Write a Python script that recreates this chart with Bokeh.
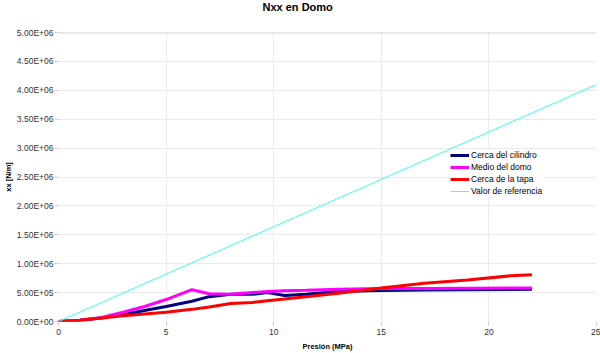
from bokeh.plotting import figure
from bokeh.models import (Legend, LegendItem, FixedTicker, CustomJSTickFormatter,
                          Range1d, Span, Title)
from bokeh.embed import file_html
from bokeh.resources import INLINE

# ---- data ----
presion = [0, 1, 2, 3, 4, 5, 6.2, 7, 8, 9, 9.7, 10.5, 11.5, 13, 15, 17, 19, 21, 22]
cerca_cilindro = [0, 0.02e6, 0.06e6, 0.12e6, 0.19e6, 0.26e6, 0.35e6, 0.43e6, 0.47e6,
                  0.47e6, 0.50e6, 0.45e6, 0.47e6, 0.52e6, 0.535e6, 0.545e6, 0.55e6,
                  0.555e6, 0.557e6]
medio_domo = [0, 0.02e6, 0.07e6, 0.16e6, 0.26e6, 0.38e6, 0.55e6, 0.48e6, 0.47e6,
              0.50e6, 0.52e6, 0.53e6, 0.54e6, 0.56e6, 0.57e6, 0.572e6, 0.575e6,
              0.578e6, 0.58e6]
cerca_tapa = [0, 0.02e6, 0.06e6, 0.10e6, 0.13e6, 0.16e6, 0.21e6, 0.25e6, 0.31e6,
              0.33e6, 0.36e6, 0.39e6, 0.43e6, 0.49e6, 0.58e6, 0.66e6, 0.72e6,
              0.79e6, 0.81e6]
ref_x = [0, 25]
ref_y = [0, 4.1e6]

x_ticks = [0, 5, 10, 15, 20, 25]
y_ticks = [0, 0.5e6, 1.0e6, 1.5e6, 2.0e6, 2.5e6, 3.0e6, 3.5e6, 4.0e6, 4.5e6, 5.0e6]
title_text = "Nxx en Domo"

FONT = "Liberation Sans"

p = figure(width=600, height=353, output_backend="svg", toolbar_location=None,
           x_range=Range1d(0, 25), y_range=Range1d(0, 5e6),
           min_border_left=58, min_border_right=4, min_border_bottom=31,
           min_border_top=0)

p.title.text = title_text
p.title.align = "left"
p.title.text_font = FONT
p.title.text_font_size = "11px"
p.title.text_font_style = "bold"
p.title.text_color = "#000000"
p.title.offset = 204
p.title.standoff = 0
p.title.vertical_align = "top"

# empty spacer between the title and the plot frame
spacer = Title(text=" ", text_font_size="2px", standoff=14)
p.add_layout(spacer, "above")

p.outline_line_color = None
p.background_fill_color = "white"
p.border_fill_color = "white"

# axes
for ax in (p.xaxis[0], p.yaxis[0]):
    ax.axis_line_color = None
    ax.major_tick_line_color = "#cccccc"
    ax.major_tick_in = 0
    ax.major_tick_out = 4
    ax.minor_tick_line_color = None
    ax.major_label_text_font = FONT
    ax.major_label_text_font_size = "8.5px"
    ax.major_label_text_color = "#333333"
    ax.axis_label_text_font = FONT
    ax.axis_label_text_font_size = "7.5px"
    ax.axis_label_text_font_style = "bold"
    ax.axis_label_text_color = "#000000"

p.xaxis.ticker = FixedTicker(ticks=x_ticks)
p.yaxis.ticker = FixedTicker(ticks=y_ticks)
p.xaxis.axis_label = "Presión (MPa)"
p.yaxis.axis_label = "xx [N/m]"
p.xaxis.major_label_standoff = 3
p.xaxis.axis_label_standoff = 4
p.yaxis.major_label_standoff = 1
p.yaxis.axis_label_standoff = 1

p.yaxis.formatter = CustomJSTickFormatter(code="""
const s = tick.toExponential(2);
const parts = s.split('e');
const sign = parts[1][0];
let d = parts[1].slice(1);
if (d.length < 2) { d = '0' + d; }
return parts[0] + 'E' + sign + d;
""")

p.xgrid.grid_line_color = "#ebebeb"
p.ygrid.grid_line_color = "#ebebeb"
p.xgrid.grid_line_width = 1
p.ygrid.grid_line_width = 1

top_line = Span(location=5e6, dimension="width", line_color="#d0d0d0", line_width=2)
p.add_layout(top_line)

r1 = p.line(presion, cerca_cilindro, line_color="#000080", line_width=3)
r2 = p.line(presion, medio_domo, line_color="#ff00ff", line_width=3)
r3 = p.line(presion, cerca_tapa, line_color="#ff0000", line_width=3)
r4 = p.line(ref_x, ref_y, line_color="#33ffff", line_width=1)

legend = Legend(items=[
    LegendItem(label="Cerca del cilindro", renderers=[r1]),
    LegendItem(label="Medio del domo", renderers=[r2]),
    LegendItem(label="Cerca de la tapa", renderers=[r3]),
    LegendItem(label="Valor de referencia", renderers=[r4]),
], location=(392, 124))
legend.background_fill_color = "white"
legend.background_fill_alpha = 1.0
legend.border_line_color = None
legend.padding = 2
legend.margin = 0
legend.spacing = 0
legend.glyph_height = 12
legend.glyph_width = 19
legend.label_height = 12
legend.label_standoff = 2
legend.label_text_font = FONT
legend.label_text_font_size = "8.5px"
legend.label_text_color = "#000000"
p.add_layout(legend)

open("out.html", "w").write(file_html(p, INLINE))
